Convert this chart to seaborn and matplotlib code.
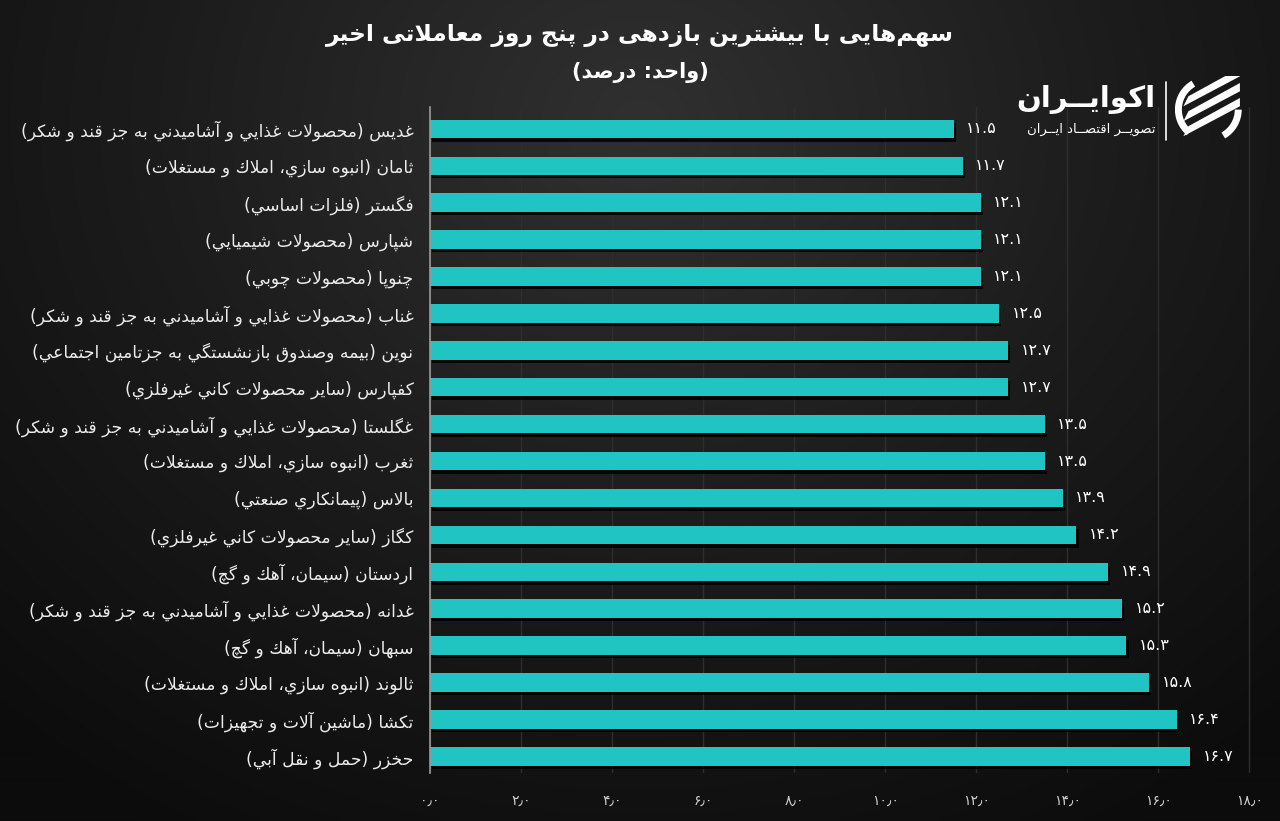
import numpy as np
import pandas as pd
import seaborn as sns
import matplotlib
matplotlib.use('Agg')
import matplotlib.pyplot as plt
import matplotlib.patheffects as pe
from matplotlib.patches import Arc, Polygon

# Data
names = [
    "غدیس (محصولات غذایي و آشامیدني به جز قند و شکر)",
    "ثامان (انبوه سازي، املاك و مستغلات)",
    "فگستر (فلزات اساسي)",
    "شپارس (محصولات شیمیایي)",
    "چنوپا (محصولات چوبي)",
    "غناب (محصولات غذایي و آشامیدني به جز قند و شکر)",
    "نوین (بیمه وصندوق بازنشستگي به جزتامین اجتماعي)",
    "کفپارس (سایر محصولات کاني غیرفلزي)",
    "غگلستا (محصولات غذایي و آشامیدني به جز قند و شکر)",
    "ثغرب (انبوه سازي، املاك و مستغلات)",
    "بالاس (پیمانکاري صنعتي)",
    "کگاز (سایر محصولات کاني غیرفلزي)",
    "اردستان (سیمان، آهك و گچ)",
    "غدانه (محصولات غذایي و آشامیدني به جز قند و شکر)",
    "سبهان (سیمان، آهك و گچ)",
    "ثالوند (انبوه سازي، املاك و مستغلات)",
    "تکشا (ماشین آلات و تجهیزات)",
    "حخزر (حمل و نقل آبي)",
]
returns = [11.5, 11.7, 12.1, 12.1, 12.1, 12.5, 12.7, 12.7, 13.5, 13.5,
           13.9, 14.2, 14.9, 15.2, 15.3, 15.8, 16.4, 16.7]
xticks = [0, 2, 4, 6, 8, 10, 12, 14, 16, 18]

title = "سهم‌هایی با بیشترین بازدهی در پنج روز معاملاتی اخیر"
subtitle = "(واحد: درصد)"
logo_main = "اکوایــران"
logo_sub = "تصویــر اقتصــاد ایــران"

# Simple Arabic shaping + RTL ordering (matplotlib has no complex text layout)
FORMS = {
    'ا': ('\uFE8D', '\uFE8E', None, None), 'آ': ('\uFE81', '\uFE82', None, None),
    'د': ('\uFEA9', '\uFEAA', None, None), 'ذ': ('\uFEAB', '\uFEAC', None, None),
    'ر': ('\uFEAD', '\uFEAE', None, None), 'ز': ('\uFEAF', '\uFEB0', None, None),
    'ژ': ('\uFB8A', '\uFB8B', None, None), 'و': ('\uFEED', '\uFEEE', None, None),
    'ب': ('\uFE8F', '\uFE90', '\uFE91', '\uFE92'), 'ت': ('\uFE95', '\uFE96', '\uFE97', '\uFE98'),
    'ث': ('\uFE99', '\uFE9A', '\uFE9B', '\uFE9C'), 'ج': ('\uFE9D', '\uFE9E', '\uFE9F', '\uFEA0'),
    'ح': ('\uFEA1', '\uFEA2', '\uFEA3', '\uFEA4'), 'خ': ('\uFEA5', '\uFEA6', '\uFEA7', '\uFEA8'),
    'س': ('\uFEB1', '\uFEB2', '\uFEB3', '\uFEB4'), 'ش': ('\uFEB5', '\uFEB6', '\uFEB7', '\uFEB8'),
    'ص': ('\uFEB9', '\uFEBA', '\uFEBB', '\uFEBC'), 'ع': ('\uFEC9', '\uFECA', '\uFECB', '\uFECC'),
    'غ': ('\uFECD', '\uFECE', '\uFECF', '\uFED0'), 'ف': ('\uFED1', '\uFED2', '\uFED3', '\uFED4'),
    'ق': ('\uFED5', '\uFED6', '\uFED7', '\uFED8'), 'ك': ('\uFED9', '\uFEDA', '\uFEDB', '\uFEDC'),
    'ل': ('\uFEDD', '\uFEDE', '\uFEDF', '\uFEE0'), 'م': ('\uFEE1', '\uFEE2', '\uFEE3', '\uFEE4'),
    'ن': ('\uFEE5', '\uFEE6', '\uFEE7', '\uFEE8'), 'ه': ('\uFEE9', '\uFEEA', '\uFEEB', '\uFEEC'),
    'ي': ('\uFEF1', '\uFEF2', '\uFEF3', '\uFEF4'), 'پ': ('\uFB56', '\uFB57', '\uFB58', '\uFB59'),
    'چ': ('\uFB7A', '\uFB7B', '\uFB7C', '\uFB7D'), 'ک': ('\uFB8E', '\uFB8F', '\uFB90', '\uFB91'),
    'گ': ('\uFB92', '\uFB93', '\uFB94', '\uFB95'), 'ی': ('\uFBFC', '\uFBFD', '\uFBFE', '\uFBFF'),
    'ـ': ('ـ', 'ـ', 'ـ', 'ـ'),
}
LAM_ALEF = {'ا': ('\uFEFB', '\uFEFC'), 'آ': ('\uFEF5', '\uFEF6')}


def joins_next(c):
    return c in FORMS and FORMS[c][2] is not None


def rtl(text):
    res = []
    i, n = 0, len(text)
    while i < n:
        c = text[i]
        if c not in FORMS:
            if c != '\u200c':
                res.append(c)
            i += 1
            continue
        join_prev = i > 0 and joins_next(text[i - 1])
        if c == 'ل' and i + 1 < n and text[i + 1] in LAM_ALEF:
            res.append(LAM_ALEF[text[i + 1]][1 if join_prev else 0])
            i += 2
            continue
        join_nxt = joins_next(c) and i + 1 < n and text[i + 1] in FORMS
        iso, fin, ini, med = FORMS[c]
        if join_prev and join_nxt:
            res.append(med)
        elif join_prev:
            res.append(fin)
        elif join_nxt:
            res.append(ini)
        else:
            res.append(iso)
        i += 1
    return ''.join(reversed(res)).translate(str.maketrans('()', ')('))


def fa_num(s):
    return s.translate(str.maketrans('0123456789', '۰۱۲۳۴۵۶۷۸۹'))


df = pd.DataFrame({'name': [rtl(n) for n in names], 'value': returns})

sns.set_style('dark')
plt.rcParams['font.family'] = ['DejaVu Sans']

fig = plt.figure(figsize=(12.8, 8.21), dpi=100)

# background gradient
bg = fig.add_axes([0, 0, 1, 1], zorder=-10)
yy, xx = np.mgrid[0:1:400j, 0:1:640j]
r = np.sqrt(((xx - 0.5) / 0.75) ** 2 + ((yy - 0.15) / 1.0) ** 2)
bg.imshow(np.clip(r, 0, 1), cmap=matplotlib.colors.LinearSegmentedColormap.from_list(
    'bg', ['#303030', '#1c1c1c', '#0c0c0c']), aspect='auto', extent=[0, 1, 0, 1], origin='upper')
bg.axis('off')

ax = fig.add_axes([0.336, 0.0585, 0.644, 0.8115])
ax.set_facecolor('none')

sns.barplot(data=df, x='value', y='name', orient='h', color='#1fc4c3',
            saturation=1, width=0.5, edgecolor='none', linewidth=0, ax=ax)
for bar in ax.patches:
    bar.set_path_effects([pe.SimplePatchShadow(offset=(1.5, -2.5), shadow_rgbFace='#000000', alpha=0.8),
                          pe.Normal()])

ax.bar_label(ax.containers[0], labels=[fa_num(f"{v:.1f}") for v in returns],
             padding=9, color='white', fontsize=11.5)

ax.set_xlim(0, 18.11)
ax.set_ylim(17.45, -0.6)
ax.set_xticks(xticks)
ax.set_xticklabels([fa_num(f"{t}") + '٫' + '۰' for t in xticks], color='#cfcfcf', fontsize=10)
ax.tick_params(axis='x', length=0, pad=15)
ax.tick_params(axis='y', length=0, pad=12, labelsize=12.3, labelcolor='#ececec')
ax.set_xlabel('')
ax.set_ylabel('')
ax.grid(axis='x', color='#2e2e2e', linewidth=1)
ax.grid(axis='y', visible=False)
for side in ['top', 'right', 'bottom']:
    ax.spines[side].set_visible(False)
ax.spines['left'].set_color('#9a9a9a')
ax.spines['left'].set_linewidth(1.2)

# titles
fig.text(0.5, 0.957, rtl(title), ha='center', va='center', color='white', fontsize=16.8, fontweight='bold')
fig.text(0.5, 0.912, rtl(subtitle), ha='center', va='center', color='white', fontsize=15, fontweight='bold')

# logo
fig.text(0.903, 0.879, rtl(logo_main), ha='right', va='center', color='white', fontsize=21, fontweight='bold')
fig.text(0.903, 0.842, rtl(logo_sub), ha='right', va='center', color='white', fontsize=9.5)
fig.add_artist(plt.Line2D([0.911, 0.911], [0.83, 0.9], color='white', lw=1.2, transform=fig.transFigure))
icon = fig.add_axes([0.918, 0.826, 0.052, 0.081])
icon.set_xlim(-1, 1)
icon.set_ylim(-1, 1)
icon.set_aspect('equal')
icon.axis('off')
icon.add_patch(Arc((0, 0), 1.8, 1.8, theta1=120, theta2=230, color='white', lw=5))
icon.add_patch(Arc((0, 0), 1.8, 1.8, theta1=300, theta2=360, color='white', lw=5))
for dy in [0.45, 0.0, -0.45]:
    icon.add_patch(Polygon([(-0.75, dy - 0.35), (0.95, dy + 0.55), (0.95, dy + 0.8), (-0.6, dy - 0.05)],
                           closed=True, color='white', lw=0))

fig.savefig('out.png', dpi=100, facecolor='#141414')
